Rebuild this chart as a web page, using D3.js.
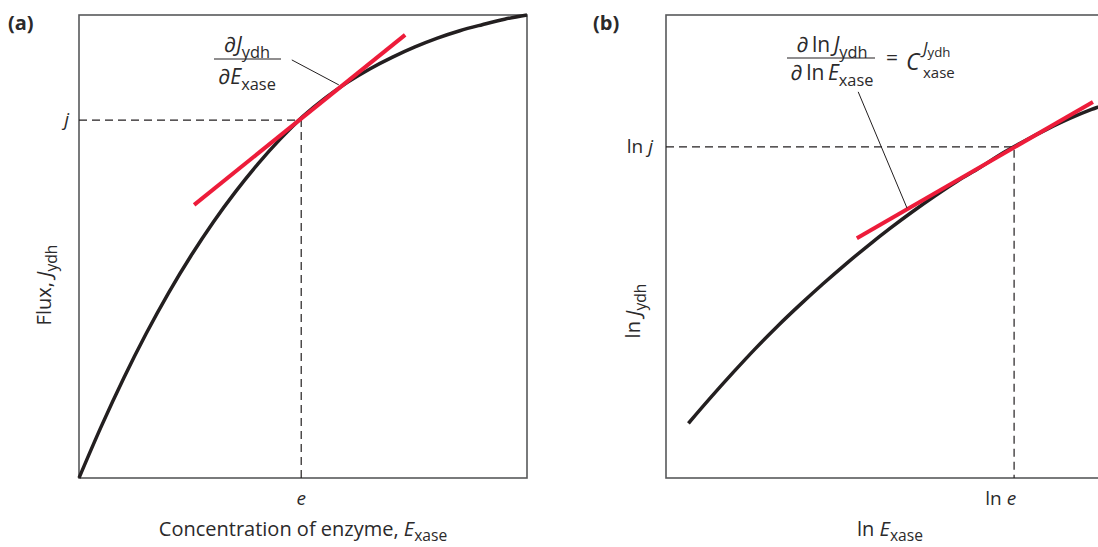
<!DOCTYPE html>
<html lang="en">
<head>
<meta charset="utf-8">
<title>Flux control: (a) and (b)</title>
<script src="https://d3js.org/d3.v7.min.js"></script>
<style type="text/css">
	body { margin: 0; background: #fff; }
	svg text { font-family: "Open Sans", "Noto Sans", sans-serif; fill: #2b2a2b; }
	.frame { fill: none; stroke: #58595b; stroke-width: 1.6; }
	.curve { fill: none; stroke: #231f20; stroke-width: 3.5; }
	.tangent { fill: none; stroke: #ed1c3a; stroke-width: 4; }
	.guide { fill: none; stroke: #231f20; stroke-width: 1.2; stroke-dasharray: 8,5; }
	.leader { fill: none; stroke: #231f20; stroke-width: 1; }
	.bar { stroke: #231f20; stroke-width: 1.2; }
</style>
</head>
<body>
<script type="text/javascript">
// ---- data (arbitrary units, 0..10 on both axes) ----
// panel (a): flux vs enzyme concentration
var fluxX = [0, 0.5, 1, 1.5, 2, 2.5, 3, 3.5, 4, 4.5, 5, 5.5, 6, 6.5, 7, 7.5, 8, 8.5, 9, 9.5, 10];
var fluxY = [0, 1.12, 2.16, 3.12, 4.0, 4.8, 5.53, 6.19, 6.79, 7.33, 7.81, 8.21, 8.55, 8.84, 9.09, 9.31, 9.5, 9.66, 9.79, 9.91, 10];
var tangentA = [[2.57, 5.9], [7.28, 9.57]];
var pointA = {e: 4.96, j: 7.73};
var leaderA = [[4.75, 9.03], [5.8, 8.49]];

// panel (b): ln flux vs ln enzyme concentration
var lnX = [0.5, 1, 1.5, 2, 2.5, 3, 3.5, 4, 4.5, 5, 5.5, 6, 6.5, 7, 7.5, 8, 8.5, 9, 9.5, 10];
var lnY = [1.18, 1.74, 2.28, 2.8, 3.29, 3.75, 4.19, 4.61, 5.01, 5.39, 5.75, 6.09, 6.41, 6.7, 7.01, 7.28, 7.53, 7.76, 7.96, 8.13];
var tangentB = [[4.26, 5.18], [9.53, 8.12]];
var pointB = {e: 7.77, j: 7.15};
var leaderB = [[4.29, 8.34], [5.38, 5.83]];

var width = 1098, height = 547;

var svg = d3.select("body").append("svg")
	.attr("width", width)
	.attr("height", height);

var yScale = d3.scaleLinear().domain([0, 10]).range([478, 15]);
var xScaleA = d3.scaleLinear().domain([0, 10]).range([79, 527]);
var xScaleB = d3.scaleLinear().domain([0, 10]).range([666, 1114]);

// writes a text made of pieces: {t, it (italic), sub}
function richText(g, x, y, parts, size, anchor, subShift) {
	var t = g.append("text")
		.attr("x", x).attr("y", y)
		.attr("text-anchor", anchor || "middle")
		.style("font-size", size + "px");
	var shift = 0;
	parts.forEach(function(p) {
		var target = p.sub ? size * (subShift || 0.3) : 0;
		var s = t.append("tspan").text(p.t)
			.attr("dy", target - shift);
		if (p.sub) s.style("font-size", (size * 0.78) + "px");
		if (p.it) s.style("font-style", "italic");
		shift = target;
	});
	return t;
}

function drawPanel(xScale, xs, ys, tangent, pt, leader) {
	var g = svg.append("g");
	var line = d3.line()
		.x(function(d) { return xScale(d[0]); })
		.y(function(d) { return yScale(d[1]); });

	g.append("rect")
		.attr("class", "frame")
		.attr("x", xScale(0)).attr("y", yScale(10))
		.attr("width", xScale(10) - xScale(0))
		.attr("height", yScale(0) - yScale(10));

	// dashed guides to the tangent point
	g.append("path").attr("class", "guide")
		.attr("d", "M" + xScale(0) + "," + yScale(pt.j) + "H" + xScale(pt.e) + "V" + yScale(0));

	g.append("path").attr("class", "curve")
		.attr("d", line.curve(d3.curveMonotoneX)(d3.zip(xs, ys)));

	g.append("path").attr("class", "tangent")
		.attr("d", line.curve(d3.curveLinear)(tangent));

	g.append("path").attr("class", "leader")
		.attr("d", line(leader));
	return g;
}

var gA = drawPanel(xScaleA, fluxX, fluxY, tangentA, pointA, leaderA);
var gB = drawPanel(xScaleB, lnX, lnY, tangentB, pointB, leaderB);

// panel letters
svg.append("text").attr("x", 8).attr("y", 30)
	.style("font-size", "20px").style("font-weight", "bold").text("(a)");
svg.append("text").attr("x", 593).attr("y", 30)
	.style("font-size", "20px").style("font-weight", "bold").text("(b)");

// ---- panel (a) labels ----
richText(gA, 247, 52, [{t: "\u2202"}, {t: "J", it: true}, {t: "ydh", sub: true}], 21);
gA.append("line").attr("class", "bar").attr("x1", 214).attr("x2", 281).attr("y1", 59).attr("y2", 59);
richText(gA, 247, 84, [{t: "\u2202"}, {t: "E", it: true}, {t: "xase", sub: true}], 21);

richText(gA, xScaleA(0) - 10, yScale(pointA.j) + 6, [{t: "j", it: true}], 19, "end");
richText(gA, xScaleA(pointA.e), 505, [{t: "e", it: true}], 19);
richText(gA, 303, 536, [{t: "Concentration of enzyme, "}, {t: "E", it: true}, {t: "xase", sub: true}], 20, "middle", 0.24);
richText(gA, 0, 0, [{t: "Flux, "}, {t: "J", it: true}, {t: "ydh", sub: true}], 20)
	.attr("transform", "translate(51,285) rotate(-90)");

// ---- panel (b) labels ----
richText(gB, 832, 52, [{t: "\u2202\u2009ln\u2009"}, {t: "J", it: true}, {t: "ydh", sub: true}], 21);
gB.append("line").attr("class", "bar").attr("x1", 787).attr("x2", 875).attr("y1", 58).attr("y2", 58);
richText(gB, 832, 80, [{t: "\u2202\u2009ln\u2009"}, {t: "E", it: true}, {t: "xase", sub: true}], 21);
// = C with J_ydh above and xase below
gB.append("text").attr("x", 886).attr("y", 65).style("font-size", "21px").text("=");
gB.append("text").attr("x", 906).attr("y", 70).style("font-size", "23px").style("font-style", "italic").text("C");
richText(gB, 923, 54, [{t: "J", it: true}, {t: "ydh", sub: true}], 17, "start", 0.2);
gB.append("text").attr("x", 923).attr("y", 78).style("font-size", "15px").text("xase");

richText(gB, xScaleB(0) - 13, yScale(pointB.j) + 6, [{t: "ln "}, {t: "j", it: true}], 19, "end");
richText(gB, xScaleB(pointB.e) + 2, 505, [{t: "ln "}, {t: "e", it: true}], 19, "end");
richText(gB, 890, 536, [{t: "ln "}, {t: "E", it: true}, {t: "xase", sub: true}], 20, "middle", 0.24);
richText(gB, 0, 0, [{t: "ln "}, {t: "J", it: true}, {t: "ydh", sub: true}], 20)
	.attr("transform", "translate(640,311) rotate(-90)");
</script>
</body>
</html>
